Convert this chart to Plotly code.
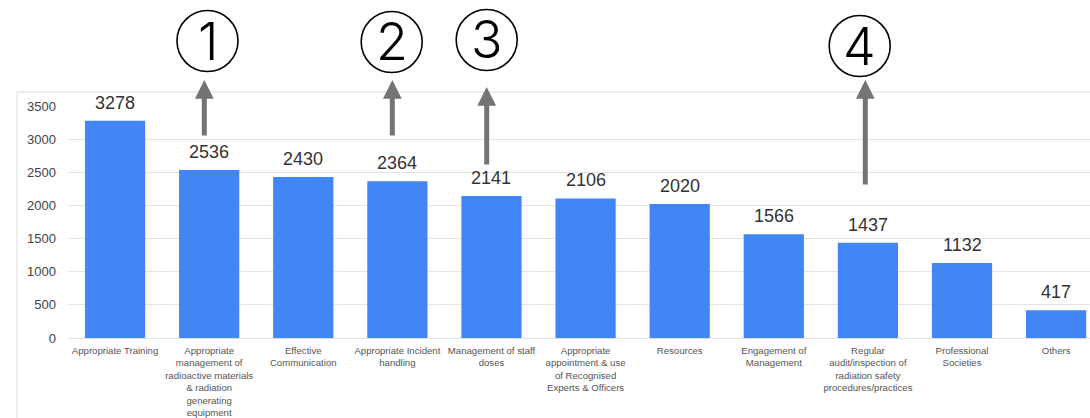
import plotly.graph_objects as go

categories = [
    "Appropriate Training",
    "Appropriate<br>management of<br>radioactive materials<br>& radiation<br>generating<br>equipment",
    "Effective<br>Communication",
    "Appropriate Incident<br>handling",
    "Management of staff<br>doses",
    "Appropriate<br>appointment & use<br>of Recognised<br>Experts & Officers",
    "Resources",
    "Engagement of<br>Management",
    "Regular<br>audit/inspection of<br>radiation safety<br>procedures/practices",
    "Professional<br>Societies",
    "Others",
]
values = [3278, 2536, 2430, 2364, 2141, 2106, 2020, 1566, 1437, 1132, 417]
y_ticks = [0, 500, 1000, 1500, 2000, 2500, 3000, 3500]

markers = ["1", "2", "3", "4"]

W, H = 1090, 418
L, T, B = 68, 106, 80
PLOT_H = H - T - B
YMAX = 3500
XMIN, XMAX = -0.5, 10.36
PX_PER_CAT = (W - L) / (XMAX - XMIN)


def py_to_paper(py):
    return (H - B - py) / PLOT_H


def px_to_cat(px):
    return (px - L) / PX_PER_CAT + XMIN


x_idx = list(range(len(categories)))

fig = go.Figure()
fig.add_trace(go.Bar(
    x=x_idx, y=values, marker=dict(color="#4285F4", line=dict(width=0)),
    hoverinfo="skip",
))

annotations = []
shapes = []
for i, v in enumerate(values):
    annotations.append(dict(
        x=i, y=v, xref="x", yref="y", text=str(v), showarrow=False,
        yanchor="bottom", yshift=6,
        font=dict(family="Liberation Sans, Arial", size=18, color="#333333"),
    ))

# circled markers (pixel positions of centres)
marker_pos = [(207.5, 41), (391.7, 42), (486.7, 40), (859.7, 46)]
R = 30.5
for m, (px, py) in zip(markers, marker_pos):
    shapes.append(dict(
        type="circle", xref="x", yref="paper",
        x0=px_to_cat(px - R), x1=px_to_cat(px + R),
        y0=py_to_paper(py + R), y1=py_to_paper(py - R),
        line=dict(color="#000000", width=1.6), fillcolor="rgba(0,0,0,0)",
    ))
    annotations.append(dict(
        x=px_to_cat(px), y=py_to_paper(py), xref="x", yref="paper", text=m,
        showarrow=False, xanchor="center", yanchor="middle",
        font=dict(family="Inter", size=52, color="#000000", weight=300),
    ))

# arrows: (x px, tip y px, tail y px)
arrow_pos = [(204.3, 80, 137), (392.3, 80, 137), (486.7, 87, 166), (865.3, 80, 186)]
for px, tip, tail in arrow_pos:
    annotations.append(dict(
        x=px_to_cat(px), y=py_to_paper(tip), xref="x", yref="paper", text="",
        showarrow=True, ax=0, ay=tail - tip, axref="pixel", ayref="pixel",
        arrowhead=2, arrowsize=0.75, arrowwidth=5, arrowcolor="#767373",
    ))

frame_col = "#dcdcdc"
shapes += [
    dict(type="line", xref="paper", yref="paper",
         x0=(17 - L) / (W - L), x1=1.05, y0=py_to_paper(92), y1=py_to_paper(92),
         line=dict(color=frame_col, width=1)),
    dict(type="line", xref="paper", yref="paper",
         x0=(17 - L) / (W - L), x1=(17 - L) / (W - L), y0=py_to_paper(92), y1=-0.5,
         line=dict(color=frame_col, width=1)),
]

fig.update_layout(
    width=W, height=H,
    margin=dict(l=L, r=0, t=T, b=B, autoexpand=False),
    paper_bgcolor="white", plot_bgcolor="white",
    showlegend=False, bargap=0.36,
    annotations=annotations, shapes=shapes,
    xaxis=dict(
        range=[XMIN, XMAX], tickmode="array", tickvals=x_idx, ticktext=categories,
        tickangle=0, showgrid=False, showline=False, ticks="", automargin=False,
        ticklabelstandoff=5,
        tickfont=dict(family="Liberation Sans, Arial", size=9.6, color="#555555"),
        fixedrange=True,
    ),
    yaxis=dict(
        range=[0, YMAX], tickmode="array", tickvals=y_ticks, automargin=False,
        showgrid=True, gridcolor="#e3e3e3", gridwidth=1,
        zeroline=True, zerolinecolor="#e0e0e0", zerolinewidth=1,
        showline=False, ticks="", ticklabelstandoff=11,
        tickfont=dict(family="Liberation Sans, Arial", size=13, color="#444444"),
        fixedrange=True,
    ),
    font=dict(family="Liberation Sans, Arial"),
)

fig.write_html("out.html", config={"displayModeBar": False},
               post_script="document.body.style.margin='0';document.body.style.overflow='hidden';")
